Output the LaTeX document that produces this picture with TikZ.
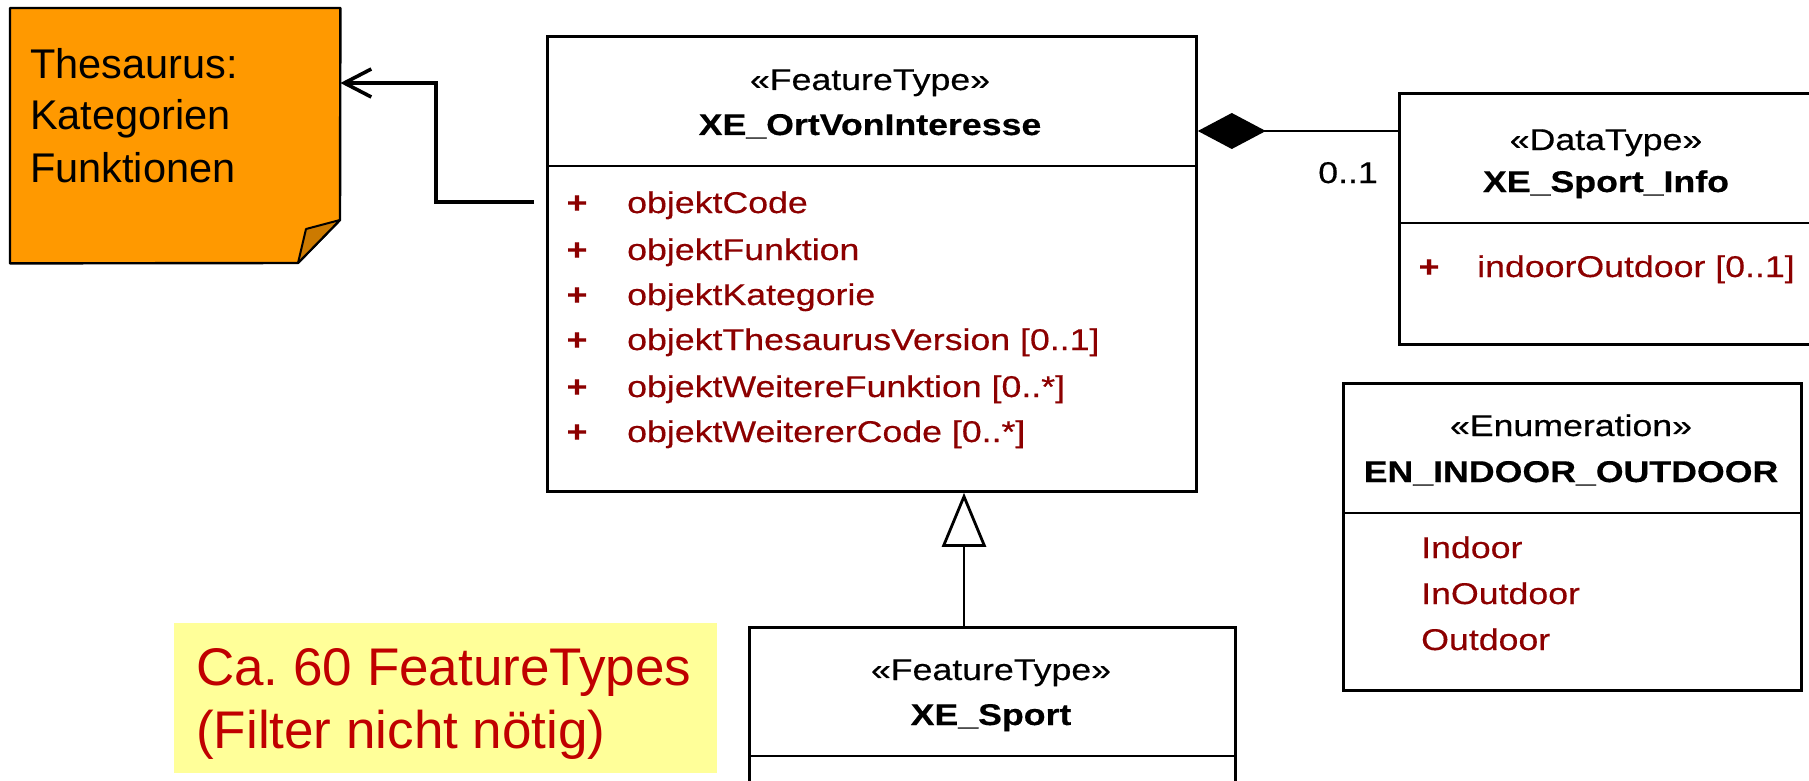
\documentclass[tikz,border=0pt]{standalone}
\usepackage{fontspec}
\setmainfont{Liberation Sans}
\newfontfamily\umlfont[FakeStretch=1.19,FakeBold=0.4]{Liberation Sans}
\usetikzlibrary{arrows.meta}
\definecolor{noteorange}{RGB}{255,153,0}
\definecolor{notefold}{RGB}{204,122,0}
\definecolor{attrred}{RGB}{140,0,0}
\definecolor{hintyellow}{RGB}{255,255,153}
\definecolor{hintred}{RGB}{192,0,0}
\frenchspacing
\begin{document}
\begin{tikzpicture}[x=1pt,y=-1pt,
  umlbox/.style={draw=black, line width=2.8pt, fill=white, inner sep=0pt, anchor=north west},
  divline/.style={line width=2.8pt},
  umltxt/.style={font=\umlfont\fontsize{30}{36}\selectfont, inner sep=0pt},
  stereo/.style={umltxt, anchor=base},
  cname/.style={inner sep=0pt, font=\umlfont\bfseries\fontsize{30}{36}\selectfont, anchor=base},
  attr/.style={umltxt, text=attrred, anchor=base west},
  plus/.style={inner sep=0pt, font=\umlfont\bfseries\fontsize{30}{36}\selectfont, text=attrred, anchor=base},
  notetxt/.style={font=\fontsize{41.5}{50}\selectfont, inner sep=0pt, anchor=base west},
  hinttxt/.style={font=\fontsize{53}{60}\selectfont, text=hintred, inner sep=0pt, anchor=base west},
  conn/.style={line width=2.8pt, line join=miter}
]
\fill[white] (0,0) rectangle (1809,781);
\useasboundingbox (0,0) rectangle (1809,781);

% ---- note ----
\node[inner sep=0pt, minimum width=330pt, minimum height=255pt, anchor=north west] (note) at (10,8) {};
\path[draw=black, line width=2.4pt, fill=noteorange, line join=round]
  (note.north west) -- (note.north east) -- (340,220) -- (298,263) -- (note.south west) -- cycle;
\path[draw=black, line width=2pt, fill=notefold, line join=round]
  (340,220) -- (306,229) -- (298,263) -- cycle;
\node[notetxt] (n1) at (30,79) {Thesaurus:};
\node[notetxt] (n2) at (30,130) {Kategorien};
\node[notetxt] (n3) at (30,182) {Funktionen};

% ---- XE_OrtVonInteresse ----
\node[umlbox, minimum width=649pt, minimum height=455pt] (ovi) at (546,35) {};
\draw[divline] (ovi.west |- 0,166) -- (ovi.east |- 0,166);
\node[stereo] (ovis) at (870,90) {«FeatureType»};
\node[cname] (ovin) at (870,135) {XE\_OrtVonInteresse};
\foreach \y/\t [count=\i] in {213/objektCode, 260/objektFunktion, 305/objektKategorie,
    350/{objektThesaurusVersion [0..1]}, 397/{objektWeitereFunktion [0..*]}, 442/{objektWeitererCode [0..*]}}{
  \node[plus] (ovip\i) at (577,\y) {+};
  \node[attr] (ovia\i) at (627,\y) {\t};
}

% ---- connector to note ----
\coordinate (cstart) at (534,202);
\coordinate (noteR) at (note.east |- 0,83);
\draw[line width=3.6pt, -{Straight Barb[length=27pt,width=28pt]}]
  (cstart) -- (436,202) -- (436,83) -- (noteR);

% ---- XE_Sport_Info ----
\node[umlbox, minimum width=416pt, minimum height=251pt] (sinfo) at (1398,92) {};
\draw[divline] (sinfo.west |- 0,223) -- (sinfo.east |- 0,223);
\node[stereo] (sinfos) at (1606,150) {«DataType»};
\node[cname] (sinfon) at (1606,192) {XE\_Sport\_Info};
\node[plus] (sinfop) at (1429,277) {+};
\node[attr] (sinfoa) at (1477,277) {indoorOutdoor [0..1]};

% composition
\draw[conn, -{Diamond[length=68pt,width=36pt]}] (sinfo.west |- 0,131) -- (ovi.east |- 0,131);
\node[umltxt, anchor=base east] (mult) at (1378,183) {0..1};

% ---- EN_INDOOR_OUTDOOR ----
\node[umlbox, minimum width=458pt, minimum height=307pt] (enum) at (1342,382) {};
\draw[divline] (enum.west |- 0,513) -- (enum.east |- 0,513);
\node[stereo] (enums) at (1571,436) {«Enumeration»};
\node[cname] (enumn) at (1571,482) {EN\_INDOOR\_OUTDOOR};
\node[attr] (enum1) at (1421,558) {Indoor};
\node[attr] (enum2) at (1421,604) {InOutdoor};
\node[attr] (enum3) at (1421,650) {Outdoor};

% ---- XE_Sport ----
\node[umlbox, minimum width=486pt, minimum height=200pt] (sport) at (748,626) {};
\draw[divline] (sport.west |- 0,756) -- (sport.east |- 0,756);
\node[stereo] (sports) at (991,680) {«FeatureType»};
\node[cname] (sportn) at (991,725) {XE\_Sport};

% generalization
\draw[conn, -{Triangle[length=54pt,width=44pt,fill=white]}] (sport.north -| 964,0) -- (ovi.south -| 964,0);

% ---- hint ----
\node[fill=hintyellow, inner sep=0pt, minimum width=543pt, minimum height=150pt, anchor=north west] (hint) at (174,623) {};
\node[hinttxt] (h1) at (196,685) {Ca. 60 FeatureTypes};
\node[hinttxt] (h2) at (196,748) {(Filter nicht nötig)};
\end{tikzpicture}
\end{document}
